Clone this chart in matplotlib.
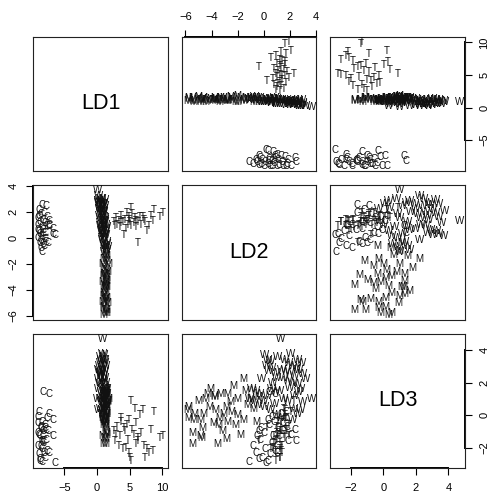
import matplotlib
matplotlib.use('Agg')
import matplotlib.pyplot as plt
import numpy as np

plt.rcParams['font.family'] = ['Liberation Sans', 'DejaVu Sans']

# ---- data: LDA scores per group ----
c_ld1 = [-6.5, -8.4, -7.8, -8.9, -8.1, -8.6, -7.6, -9.0, -8.3, -7.4, -8.8, -8.0, -9.0,
         -7.7, -8.5, -6.8, -8.2, -8.9, -7.9, -6.7, -8.7, -8.4, -9.0, -8.0, -8.6, -7.8,
         -8.8, -8.3, -8.1, -8.6, -8.4, -7.3, -8.9, -8.2, -7.4, -7.5, -9.0]
c_ld2 = [0.2, 2.5, 2.4, 2.1, 1.9, 1.8, 1.6, 1.5, 1.4, 1.3, 1.2, 1.1, 1.0,
         0.9, 0.8, 0.7, 0.6, 0.5, 0.4, 0.3, 0.3, 0.1, 0.0, -0.1, -0.2, -0.3,
         -0.4, -0.5, -0.6, -0.8, -1.1, 1.0, 1.7, 0.4, 0.9, -0.4, 0.6]
c_ld3 = [-2.95, -1.6, -0.9, -1.2, -1.6, -0.7, -0.2, -0.5, -1.0, 0.1, -1.3, -0.8, -1.9,
         -2.2, -0.4, -1.3, -1.7, -2.4, -0.6, -0.3, -2.8, -2.1, -1.1, -2.6, -0.8, -1.5,
         -2.7, -1.3, -2.3, -1.9, -2.9, -2.3, 0.2, 1.4, 1.3, -1.0, -0.1]

t_ld1 = [10.1, 9.7, 8.7, 8.2, 7.9, 7.6, 7.3, 7.1, 7.0, 6.7, 6.5, 6.2, 6.0, 5.8, 5.6,
         5.4, 5.2, 5.2, 5.0, 4.9, 4.7, 4.5, 4.4, 4.2, 4.1, 3.9, 3.7, 3.5, 3.3, 3.1,
         2.9, 2.7, 6.3, 5.9, 4.8, 8.5, 3.6, 2.6]
t_ld2 = [1.9, 1.6, 2.1, 1.7, 0.9, 0.5, 1.2, 1.4, 1.6, 1.0, 1.6, -0.4, 1.3, 1.5, 1.1,
         1.8, 2.3, 0.9, 1.2, 1.6, 1.0, 1.9, 0.7, 1.4, 0.2, 1.2, 1.7, 0.8, 1.3, 1.0,
         1.5, 0.9, 1.2, 0.8, 1.4, 1.3, 1.1, 1.2]
t_ld3 = [-1.3, -1.4, 0.2, -0.9, -2.3, -2.1, -2.6, -1.9, 0.3, -1.1, 0.0, -1.6, -0.5, 0.4, -1.2,
         -0.9, 0.9, -2.8, -2.6, -0.3, -1.5, -0.6, -2.0, -1.0, -0.8, -2.1, -0.2, -1.3, -1.9, -0.7,
         -1.2, -1.6, -1.4, -1.8, -2.3, -2.2, -0.4, -1.0]

w_ld1 = [0.8, 0.1, 1.0, 0.8, 1.2, 0.7, 1.3, 0.9, 0.5, 1.1, 0.8, 1.0, 0.6, 0.4, 0.9,
         0.3, 0.7, 1.2, 0.5, 0.8, 0.4, 0.6, 1.0, 0.3, 1.4, 1.2, 1.5, 1.1, 0.9, 1.3,
         0.7, 1.1, 0.6, 0.9, 0.5, 0.8, 0.2, 1.0, 1.4, 1.2, 0.9, 1.3, 1.0, 0.7, 0.5,
         1.1, 0.6, 1.3, 0.9, 1.6, 0.4, 1.2, 0.8, 1.5, 0.7, 1.1, 0.3, 1.0]
w_ld2 = [1.3, 3.65, 0.1, 2.05, 0.3, 0.5, 0.2, 0.6, 0.9, 0.4, 1.0, 1.6, 1.9, 2.2, 2.5,
         2.7, 2.0, 1.5, 2.4, 1.8, 2.2, 2.6, 2.0, 2.8, -0.9, -0.6, -0.3, -1.1, 0.3, 0.6,
         0.9, 1.2, 1.5, 1.8, 2.3, 2.6, 2.8, 2.2, -0.5, 0.1, 0.5, 1.0, 1.3, 3.0, 3.0,
         2.9, 1.1, 0.7, -0.2, -0.7, 1.7, 2.4, 0.0, 0.8, 2.6, 1.4, 3.2, 2.7]
w_ld3 = [4.7, 1.0, 3.7, 3.75, 3.4, 3.3, 3.0, 2.9, 2.6, 2.7, 2.3, 3.4, 3.2, 3.0, 2.9,
         2.8, 2.6, 2.3, 2.4, 2.1, 2.0, 1.9, 1.7, 1.6, 1.6, 1.5, 1.3, 1.0, 1.2, 1.6,
         1.4, 1.5, 1.0, 0.9, 0.4, 0.1, 0.3, -0.3, 0.6, 0.5, 0.3, 0.0, -0.2, 0.8, 2.5,
         3.2, 3.6, 2.0, 2.2, 0.9, 2.7, 1.2, 0.9, 0.7, 3.4, 2.8, 2.2, 1.4]

m_ld1 = [1.0, 1.3, 0.9, 1.2, 1.5, 1.1, 1.4, 0.8, 1.2, 1.0, 1.3, 1.6, 0.9, 1.2, 1.4,
         1.0, 1.1, 1.3, 0.8, 1.5, 1.1, 1.4, 0.9, 1.2, 1.0, 1.3, 0.9, 1.5, 1.2, 1.1,
         1.3, 1.0, 1.4, 1.2, 0.8, 1.1, 1.5, 1.0, 1.3, 0.9, 1.6, 1.2, 1.0, 1.4, 1.1, 1.7]
m_ld2 = [-5.9, -5.8, -5.4, -4.9, -4.6, -3.9, -5.5, -4.9, -5.5, -3.6, -4.1, -5.0, -4.5, -3.8, -3.3,
         -2.8, -2.3, -3.7, -3.4, -3.1, -2.8, -2.5, -2.2, -3.5, -2.9, -1.0, -0.4, -1.8, -2.84, -4.8,
         -4.7, -5.3, -5.75, -1.6, -2.0, -4.3, -3.8, -1.6, -1.3, -0.8, -2.6, -3.2, -4.2, -1.4, -0.6, -2.0]
m_ld3 = [0.3, -0.2, -0.3, -0.3, 0.1, -0.5, -1.1, -1.3, -1.8, -1.8, 1.6, 0.9, 1.0, 1.1, 1.3,
         1.3, 1.8, 0.3, -0.2, 0.1, -0.4, 0.2, -0.6, -0.6, 0.5, 1.0, 1.1, -1.2, -1.45, -1.4,
         -0.8, 0.1, 0.5, -0.3, 0.0, 1.3, 1.2, 2.2, 0.6, 0.4, 0.8, -1.0, 0.5, 1.5, -0.4, 1.0]

var_names = ['LD1', 'LD2', 'LD3']
tick_sets = [[-5, 0, 5, 10], [-6, -4, -2, 0, 2, 4], [-2, 0, 2, 4]]

labels = (['C'] * len(c_ld1) + ['T'] * len(t_ld1) +
          ['W'] * len(w_ld1) + ['M'] * len(m_ld1))
ld = [np.array(c_ld1 + t_ld1 + w_ld1 + m_ld1),
      np.array(c_ld2 + t_ld2 + w_ld2 + m_ld2),
      np.array(c_ld3 + t_ld3 + w_ld3 + m_ld3)]

W, H = 492, 493
fig = plt.figure(figsize=(W / 100, H / 100), dpi=100)
left0, top0 = 33.3, 36.7
size, gap = 134.5, 14.0

lims = []
for v in ld:
    lo, hi = v.min(), v.max()
    p = 0.04 * (hi - lo)
    lims.append((lo - p, hi + p))

tick_kw = dict(direction='out', length=5, width=0.8, labelsize=8, colors='black')

for i in range(3):
    for j in range(3):
        x0 = left0 + j * (size + gap)
        y0 = top0 + i * (size + gap)
        ax = fig.add_axes([x0 / W, 1 - (y0 + size) / H, size / W, size / H])
        ax.set_xlim(lims[j])
        ax.set_ylim(lims[i])
        for s in ax.spines.values():
            s.set_linewidth(0.8)
            s.set_color('#222222')
        ax.set_xticks([])
        ax.set_yticks([])
        if i == j:
            ax.text(0.5, 0.5, var_names[i], transform=ax.transAxes,
                    ha='center', va='center', fontsize=15.5)
        else:
            for x, y, l in zip(ld[j], ld[i], labels):
                ax.text(x, y, l, ha='center', va='center', fontsize=7,
                        color='#111111')
        # R-style axes
        if i == 0 and j == 1:
            t = tick_sets[j]
            ax.set_xticks(t)
            ax.tick_params(axis='x', bottom=False, labelbottom=False, top=True,
                           labeltop=True, pad=5.5, **tick_kw)
            ax.plot([t[0], t[-1]], [1, 1], transform=ax.get_xaxis_transform(),
                    color='black', lw=1.4, clip_on=False)
        if i == 2 and j in (0, 2):
            t = tick_sets[j]
            ax.set_xticks(t)
            ax.tick_params(axis='x', bottom=True, labelbottom=True, pad=5.5, **tick_kw)
            ax.plot([t[0], t[-1]], [0, 0], transform=ax.get_xaxis_transform(),
                    color='black', lw=1.4, clip_on=False)
        if j == 0 and i == 1:
            t = tick_sets[i]
            ax.set_yticks(t)
            ax.tick_params(axis='y', left=True, labelleft=True, pad=5.5,
                           labelrotation=90, **tick_kw)
            for lab in ax.get_yticklabels():
                lab.set_va('center')
            ax.plot([0, 0], [t[0], t[-1]], transform=ax.get_yaxis_transform(),
                    color='black', lw=1.4, clip_on=False)
        if j == 2 and i in (0, 2):
            t = tick_sets[i]
            ax.set_yticks(t)
            ax.tick_params(axis='y', left=False, labelleft=False, right=True,
                           labelright=True, pad=5.5, labelrotation=90, **tick_kw)
            for lab in ax.get_yticklabels():
                lab.set_va('center')
            ax.plot([1, 1], [t[0], t[-1]], transform=ax.get_yaxis_transform(),
                    color='black', lw=1.4, clip_on=False)

fig.savefig('out.png', dpi=100, facecolor='white')
